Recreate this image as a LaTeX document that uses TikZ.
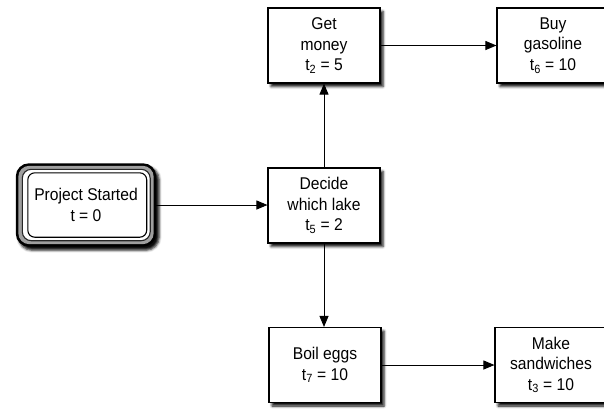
\documentclass[tikz,border=0pt]{standalone}
\usepackage{fontspec}
\setmainfont{Liberation Sans}[FakeStretch=0.92]
\usetikzlibrary{arrows.meta,shadows.blur,backgrounds}

\tikzset{
  dropshade/.style={
    blur shadow={shadow xshift=3pt, shadow yshift=-3.5pt,
                 shadow blur radius=2.5pt, shadow opacity=95}
  },
  task/.style={
    draw=black, line width=1.1pt, fill=white,
    minimum width=112pt, minimum height=75pt,
    align=center, inner sep=2pt,
    font=\fontsize{17pt}{20.5pt}\selectfont,
    dropshade
  },
  startnode/.style={
    minimum width=140pt, minimum height=83pt,
    align=center, inner sep=2pt,
    font=\fontsize{17pt}{21.5pt}\selectfont
  },
  link/.style={draw=black, line width=0.9pt,
    -{Triangle[length=11pt,width=9pt]}}
}

\begin{document}
\begin{tikzpicture}[x=1pt,y=-1pt]
  \useasboundingbox (0,0) rectangle (604,408);

  % milestone at the start
  \node[startnode] (ps) at (86,205) {Project Started\\t = 0};

  % activities
  \node[task] (decide) at (324,205.5) {Decide\\which lake\\t\textsubscript{5} = 2};
  \node[task] (money)  at (324,45.5)  {Get\\money\\t\textsubscript{2} = 5};
  \node[task] (gas)    at (553,45.5)  {Buy\\gasoline\\t\textsubscript{6} = 10};
  \node[task] (eggs)   at (325,365) {Boil eggs\\t\textsubscript{7} = 10};
  \node[task] (sand)   at (551,365) {Make\\sandwiches\\t\textsubscript{3} = 10};

  % framed, rounded outline of the start milestone
  \begin{scope}[on background layer]
    \path[fill=black, rounded corners=13pt, dropshade]
      (ps.north west) rectangle (ps.south east);
    \path[fill=gray!75, rounded corners=11pt]
      ([xshift=2.5pt,yshift=-2.5pt]ps.north west) rectangle ([xshift=-2.5pt,yshift=2.5pt]ps.south east);
    \draw[fill=white, draw=black!85, line width=1.1pt, rounded corners=9pt]
      ([xshift=6.5pt,yshift=-6pt]ps.north west) rectangle ([xshift=-6pt,yshift=6pt]ps.south east);
    \draw[fill=white, line width=1.1pt, rounded corners=7pt]
      ([xshift=12pt,yshift=-9.5pt]ps.north west) rectangle ([xshift=-9.5pt,yshift=9.5pt]ps.south east);
  \end{scope}

  % precedence links
  \draw[link] (ps.east) -- (ps.east -| decide.west);
  \draw[link] (decide.north) -- (money.south);
  \draw[link] (decide.south) -- (eggs.north -| decide.south);
  \draw[link] (money.east) -- (gas.west);
  \draw[link] (eggs.east) -- (sand.west);
\end{tikzpicture}
\end{document}
